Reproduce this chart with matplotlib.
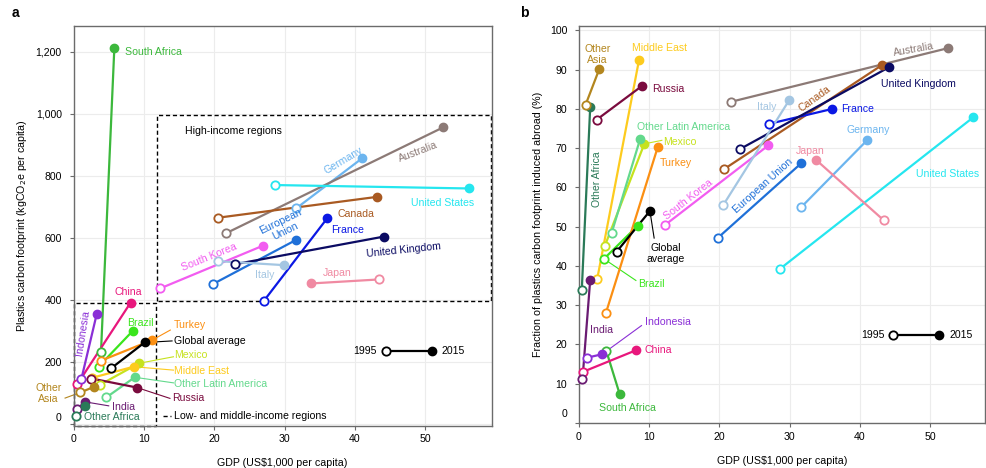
import numpy as np
import matplotlib
matplotlib.use('Agg')
import matplotlib.pyplot as plt
import matplotlib.transforms as mtransforms

plt.rcParams['font.family'] = ['Liberation Sans', 'DejaVu Sans']

# ---- data ----
regions = ['South Africa', 'China', 'Indonesia', 'Brazil', 'Turkey', 'Global average',
           'Mexico', 'Middle East', 'Other Latin America', 'Russia', 'India',
           'Other Africa', 'Other Asia', 'Germany', 'Australia', 'United States',
           'Canada', 'European Union', 'France', 'United Kingdom', 'South Korea',
           'Italy', 'Japan']
gdp_1995 = [3.9, 0.55, 1.1, 3.55, 3.85, 5.35, 3.7, 2.6, 4.65, 2.55, 0.5, 0.4, 0.95,
            31.65, 21.6, 28.65, 20.6, 19.8, 27.05, 22.95, 12.3, 20.5, 43.4]
gdp_2015 = [5.8, 8.1, 3.3, 8.4, 11.2, 10.1, 9.3, 8.55, 8.7, 9.0, 1.6, 1.6, 2.9,
            41.0, 52.55, 56.15, 43.15, 31.6, 36.05, 44.1, 26.95, 29.95, 33.7]
footprint_1995 = [232, 130, 145, 186, 205, 181, 127, 150, 87, 148, 49, 28, 103,
                  696, 615, 771, 666, 452, 398, 516, 438, 526, 467]
footprint_2015 = [1213, 392, 356, 301, 272, 264, 197, 186, 152, 119, 73, 60, 121,
                  857, 957, 760, 733, 594, 664, 605, 576, 513, 454]
abroad_1995 = [18.3, 13.0, 16.6, 41.8, 28.1, 43.6, 45.2, 36.7, 48.4, 77.3, 11.1, 33.9, 81.1,
               55.0, 81.8, 39.3, 64.6, 47.2, 76.2, 69.8, 50.5, 55.4, 51.6]
abroad_2015 = [7.3, 18.5, 17.5, 50.3, 70.2, 54.0, 71.1, 92.5, 72.3, 85.9, 36.5, 80.5, 90.2,
               72.0, 95.5, 77.9, 91.2, 66.1, 80.0, 90.6, 70.7, 82.3, 67.1]

colors = {
    'South Africa': '#3cb83c', 'China': '#e8177c', 'Indonesia': '#8a2fd6',
    'Brazil': '#3ae51c', 'Turkey': '#fb8f12', 'Global average': '#000000',
    'Mexico': '#c6e21e', 'Middle East': '#fdcb1e', 'Other Latin America': '#63d98c',
    'Russia': '#7a0b3e', 'India': '#6a1b72', 'Other Africa': '#2a7a58',
    'Other Asia': '#b3861e', 'Germany': '#6cb5ef', 'Australia': '#8c7a76',
    'United States': '#25e6ef', 'Canada': '#a95a22', 'European Union': '#1f70d8',
    'France': '#0b18e4', 'United Kingdom': '#0b0b63', 'South Korea': '#f25cf0',
    'Italy': '#a4c6e2', 'Japan': '#f08aa2',
}

# label placement: name -> (x, y, ha, rotation, text)
labels_a = {
    'South Africa': (7.3, 1199, 'left', 0, 'South Africa'),
    'China': (7.75, 427, 'center', 0, 'China'),
    'Indonesia': (1.3, 294, 'center', 81, 'Indonesia'),
    'Brazil': (9.5, 327, 'center', 0, 'Brazil'),
    'Turkey': (14.2, 319, 'left', 0, 'Turkey'),
    'Global average': (14.3, 270, 'left', 0, 'Global average'),
    'Mexico': (14.3, 225, 'left', 0, 'Mexico'),
    'Middle East': (14.3, 172, 'left', 0, 'Middle East'),
    'Other Latin America': (14.3, 130, 'left', 0, 'Other Latin America'),
    'Russia': (14.0, 85, 'left', 0, 'Russia'),
    'India': (5.5, 55, 'left', 0, 'India'),
    'Other Africa': (1.45, 23, 'left', 0, 'Other Africa'),
    'Other Asia': (-3.6, 101, 'center', 0, 'Other\nAsia'),
    'Germany': (38.4, 851, 'center', 31, 'Germany'),
    'Australia': (49.0, 878, 'center', 21, 'Australia'),
    'United States': (52.4, 714, 'center', 0, 'United States'),
    'Canada': (40.2, 678, 'center', 0, 'Canada'),
    'European Union': (29.8, 637, 'center', 26, 'European\nUnion'),
    'France': (38.9, 626, 'center', 0, 'France'),
    'United Kingdom': (46.9, 562, 'center', 6, 'United Kingdom'),
    'South Korea': (19.2, 540, 'center', 22, 'South Korea'),
    'Italy': (27.2, 481, 'center', 0, 'Italy'),
    'Japan': (37.5, 487, 'center', 0, 'Japan'),
}
labels_b = {
    'Other Asia': (2.6, 93.8, 'center', 0, 'Other\nAsia'),
    'Middle East': (11.5, 95.5, 'center', 0, 'Middle East'),
    'Russia': (10.35, 85.1, 'left', 0, 'Russia'),
    'Other Latin America': (8.3, 75.3, 'left', 0, 'Other Latin America'),
    'Mexico': (12.0, 71.7, 'left', 0, 'Mexico'),
    'Turkey': (11.45, 66.2, 'left', 0, 'Turkey'),
    'Other Africa': (2.5, 62.0, 'center', 90, 'Other Africa'),
    'South Korea': (15.6, 56.9, 'center', 38, 'South Korea'),
    'Global average': (12.35, 43.1, 'center', 0, 'Global\naverage'),
    'Brazil': (8.45, 35.4, 'left', 0, 'Brazil'),
    'India': (3.2, 23.6, 'center', 0, 'India'),
    'Indonesia': (9.4, 25.7, 'left', 0, 'Indonesia'),
    'China': (9.3, 18.5, 'left', 0, 'China'),
    'South Africa': (6.9, 3.9, 'center', 0, 'South Africa'),
    'Australia': (47.6, 95.2, 'center', 10, 'Australia'),
    'United Kingdom': (43.0, 86.4, 'left', 0, 'United Kingdom'),
    'Canada': (33.5, 82.5, 'center', 36, 'Canada'),
    'Italy': (26.7, 80.5, 'center', 0, 'Italy'),
    'France': (37.3, 80.0, 'left', 0, 'France'),
    'Germany': (41.1, 74.7, 'center', 0, 'Germany'),
    'Japan': (32.9, 69.2, 'center', 0, 'Japan'),
    'European Union': (26.25, 60.3, 'center', 42, 'European Union'),
    'United States': (52.5, 63.3, 'center', 0, 'United States'),
}
# leader lines: name -> (which year the line starts from, end x, end y)
leaders_a = {
    'Turkey': (2015, 13.75, 304), 'Global average': (2015, 14.0, 269),
    'Mexico': (2015, 14.2, 218), 'Middle East': (2015, 14.2, 175),
    'Other Latin America': (2015, 14.2, 134), 'Russia': (2015, 13.7, 84),
    'India': (2015, 5.0, 60), 'Other Asia': (1995, -1.2, 85),
}
leaders_b = {
    'Mexico': (2015, 11.8, 72), 'Global average': (2015, 10.7, 47.1),
    'Brazil': (1995, 8.1, 36.3), 'Indonesia': (2015, 8.9, 24.8),
}

fig = plt.figure(figsize=(9.87, 4.68), dpi=100)
ax1 = fig.add_axes([0.0745, 0.0897, 0.4235, 0.8553])
ax2 = fig.add_axes([0.5866, 0.0955, 0.4114, 0.8495])


def draw_panel(ax, yvals95, yvals15, labels, leaders):
    for i, name in enumerate(regions):
        c = colors[name]
        ax.plot([gdp_1995[i], gdp_2015[i]], [yvals95[i], yvals15[i]], color=c,
                lw=1.6, zorder=3, clip_on=False, solid_capstyle='round')
        ax.plot(gdp_1995[i], yvals95[i], 'o', ms=6, mfc='white', mec=c, mew=1.3,
                zorder=4, clip_on=False)
        ax.plot(gdp_2015[i], yvals15[i], 'o', ms=6, mfc=c, mec=c, zorder=4,
                clip_on=False)
        if name in leaders:
            yr, ex, ey = leaders[name]
            sx, sy = (gdp_2015[i], yvals15[i]) if yr == 2015 else (gdp_1995[i], yvals95[i])
            ax.plot([sx, ex], [sy, ey], color=c, lw=0.8, zorder=2, clip_on=False)
        lx, ly, ha, rot, txt = labels[name]
        ax.text(lx, ly, txt, color=c, fontsize=7.6, ha=ha, va='center',
                rotation=rot, rotation_mode='anchor', linespacing=1.1, zorder=5,
                clip_on=False)


def style_axes(ax, raise_zero_px):
    for s in ax.spines.values():
        s.set_color('#6b6b6b')
        s.set_linewidth(1.0)
    ax.grid(True, color='#ececec', lw=0.8, zorder=0)
    ax.set_axisbelow(True)
    ax.tick_params(labelsize=7.6, length=3, color='#6b6b6b', pad=3)
    ax.tick_params(axis='y', pad=5.5)
    offset = mtransforms.ScaledTranslation(0, raise_zero_px / 100, fig.dpi_scale_trans)
    tick0 = ax.yaxis.get_major_ticks()[0]
    tick0.label1.set_transform(tick0.label1.get_transform() + offset)


# ---- panel a ----
draw_panel(ax1, footprint_1995, footprint_2015, labels_a, leaders_a)
ax1.set_xlim(0, 59.4)
ax1.set_ylim(-5, 1284)
ax1.set_xticks([0, 10, 20, 30, 40, 50])
ax1.set_yticks([0, 200, 400, 600, 800, 1000, 1200])
ax1.set_yticklabels(['0', '200', '400', '600', '800', '1,000', '1,200'])
style_axes(ax1, 7)
ax1.set_xlabel('GDP (US$1,000 per capita)', fontsize=7.7, labelpad=10)
ax1.set_ylabel('Plastics carbon footprint (kgCO$_2$e per capita)', fontsize=7.7, labelpad=5)

box = dict(color='black', lw=1.0, ls=(0, (3, 2)), zorder=1, clip_on=False)
ax1.plot([11.9, 11.9, 59.3, 59.3, 11.9], [397, 995, 995, 397, 397], **box)
ax1.plot([0.1, 0.1, 11.7, 11.7, 0.1], [-4, 392, 392, -4, -4], **box)
ax1.plot([12.7, 13.8], [27, 27], **box)
ax1.text(15.9, 945, 'High-income regions', fontsize=7.6, va='center', ha='left')
ax1.text(14.3, 27, 'Low- and middle-income regions', fontsize=7.6, va='center', ha='left')

ax1.plot([44.4, 51.0], [236, 236], color='black', lw=1.6, zorder=3)
ax1.plot(44.4, 236, 'o', ms=6, mfc='white', mec='black', mew=1.3, zorder=4)
ax1.plot(51.0, 236, 'o', ms=6, color='black', zorder=4)
ax1.text(43.1, 236, '1995', fontsize=7.6, ha='right', va='center')
ax1.text(52.3, 236, '2015', fontsize=7.6, ha='left', va='center')

# ---- panel b ----
draw_panel(ax2, abroad_1995, abroad_2015, labels_b, leaders_b)
ax2.set_xlim(0, 57.8)
ax2.set_ylim(-0.1, 101.2)
ax2.set_xticks([0, 10, 20, 30, 40, 50])
ax2.set_yticks(np.arange(0, 101, 10))
style_axes(ax2, 10)
ax2.set_xlabel('GDP (US$1,000 per capita)', fontsize=7.7, labelpad=10)
ax2.set_ylabel('Fraction of plastics carbon footprint induced abroad (%)', fontsize=7.7, labelpad=5)

ax2.plot([44.7, 51.3], [22.5, 22.5], color='black', lw=1.6, zorder=3)
ax2.plot(44.7, 22.5, 'o', ms=6, mfc='white', mec='black', mew=1.3, zorder=4)
ax2.plot(51.3, 22.5, 'o', ms=6, color='black', zorder=4)
ax2.text(43.5, 22.5, '1995', fontsize=7.6, ha='right', va='center')
ax2.text(52.7, 22.5, '2015', fontsize=7.6, ha='left', va='center')

fig.text(0.012, 0.972, 'a', fontsize=10, fontweight='bold', va='center')
fig.text(0.527, 0.972, 'b', fontsize=10, fontweight='bold', va='center')

fig.savefig('out.png', dpi=100)
